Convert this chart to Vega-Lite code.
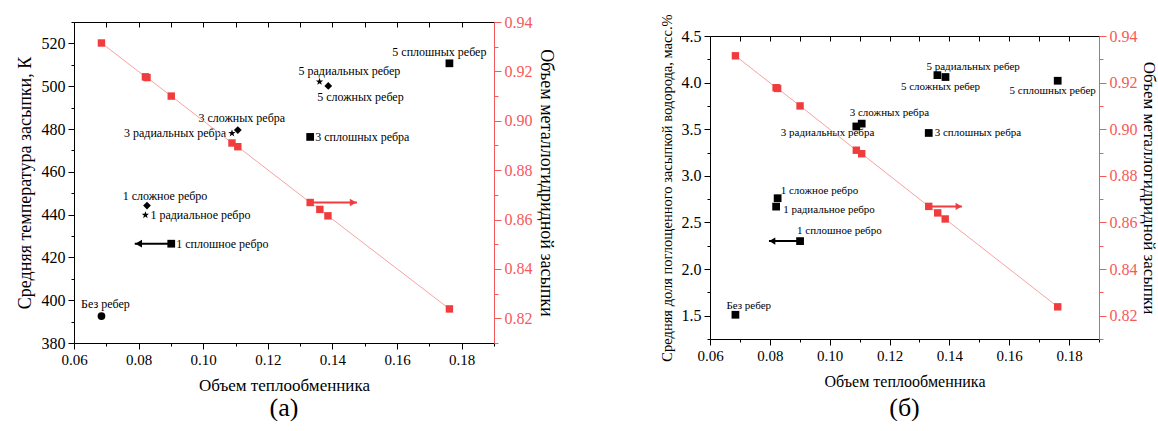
{
  "$schema": "https://vega.github.io/schema/vega-lite/v6.json",
  "padding": {"left": 16, "top": 13, "right": 0, "bottom": 0},
  "background": "white",
  "config": {"view": {"stroke": null}, "concat": {"spacing": 105}, "font": "Liberation Serif"},
  "datasets": {
    "ribs": [
      {"label": "Без ребер", "type": "нет", "vol": 0.0685, "temp": 392.6, "h2": 1.51},
      {"label": "1 сложное ребро", "type": "сложные", "vol": 0.0826, "temp": 444.2, "h2": 2.76},
      {"label": "1 радиальное ребро", "type": "радиальные", "vol": 0.0821, "temp": 439.8, "h2": 2.67},
      {"label": "1 сплошное ребро", "type": "сплошные", "vol": 0.0901, "temp": 426.4, "h2": 2.30},
      {"label": "3 радиальных ребра", "type": "радиальные", "vol": 0.1089, "temp": 478.0, "h2": 3.53},
      {"label": "3 сложных ребра", "type": "сложные", "vol": 0.1107, "temp": 479.5, "h2": 3.56},
      {"label": "3 сплошных ребра", "type": "сплошные", "vol": 0.1331, "temp": 476.3, "h2": 3.46},
      {"label": "5 радиальных ребер", "type": "радиальные", "vol": 0.1360, "temp": 502.1, "h2": 4.08},
      {"label": "5 сложных ребер", "type": "сложные", "vol": 0.1387, "temp": 500.1, "h2": 4.06},
      {"label": "5 сплошных ребер", "type": "сплошные", "vol": 0.1762, "temp": 510.7, "h2": 4.02}
    ],
    "metal": [
      {"vol": 0.0685, "metal": 0.9315},
      {"vol": 0.0821, "metal": 0.9178},
      {"vol": 0.0826, "metal": 0.9175},
      {"vol": 0.0901, "metal": 0.9100},
      {"vol": 0.1089, "metal": 0.8910},
      {"vol": 0.1107, "metal": 0.8895},
      {"vol": 0.1331, "metal": 0.8669},
      {"vol": 0.1361, "metal": 0.8641},
      {"vol": 0.1386, "metal": 0.8615},
      {"vol": 0.1762, "metal": 0.8238}
    ],
    "arrows": [
      {"panel": "а", "side": "left", "vol": 0.0901, "tip": 0.0788, "temp": 426.4},
      {"panel": "а", "side": "right", "vol": 0.1331, "tip": 0.1476, "metal": 0.8669},
      {"panel": "б", "side": "left", "vol": 0.0901, "tip": 0.0797, "h2": 2.30},
      {"panel": "б", "side": "right", "vol": 0.1331, "tip": 0.1442, "metal": 0.8669}
    ],
    "heads": [
      {"panel": "а", "side": "left", "vol": 0.0800, "temp": 426.4},
      {"panel": "а", "side": "right", "vol": 0.1464, "metal": 0.8669},
      {"panel": "б", "side": "left", "vol": 0.0808, "h2": 2.30},
      {"panel": "б", "side": "right", "vol": 0.1431, "metal": 0.8669}
    ]
  },
  "hconcat": [
    {
      "width": 420,
      "height": 321,
      "title": {"text": "(а)", "orient": "bottom", "font": "Liberation Serif", "fontSize": 26, "fontWeight": "normal", "color": "black", "offset": 2},
      "resolve": {"scale": {"y": "independent"}, "axis": {"x": "independent"}},
      "layer": [
        {
          "data": {"name": "ribs"},
          "encoding": {
            "x": {"field": "vol", "type": "quantitative", "scale": {"domain": [0.06, 0.19], "nice": false, "zero": false},
              "axis": {"orient": "bottom", "title": "Объем теплообменника", "values": [0.06,0.07,0.08,0.09,0.1,0.11,0.12,0.13,0.14,0.15,0.16,0.17,0.18,0.19],
                "labelExpr": "round(datum.value*100)%2==0 ? format(datum.value,'.2f') : ''",
                "tickSize": {"condition": {"test": "round(datum.value*100)%2==0", "value": 6}, "value": 3},
                "labelOverlap": false, "labelFlush": false, "grid": false, "domainColor": "black", "tickColor": "black",
                "labelColor": "black", "labelFont": "Liberation Serif", "labelFontSize": 15, "labelPadding": 3,
                "titleFont": "Liberation Serif", "titleFontSize": 17, "titleFontWeight": "normal", "titleColor": "black", "titlePadding": 10}},
            "y": {"field": "temp", "type": "quantitative", "scale": {"domain": [380, 530], "nice": false, "zero": false},
              "axis": {"orient": "left", "title": "Средняя температура засыпки, К", "values": [380,390,400,410,420,430,440,450,460,470,480,490,500,510,520,530],
                "labelExpr": "datum.value%20==0 ? datum.label : ''",
                "tickSize": {"condition": {"test": "datum.value%20==0", "value": 6}, "value": 3},
                "labelOverlap": false, "labelFlush": false, "grid": false, "domainColor": "black", "tickColor": "black",
                "labelColor": "black", "labelFont": "Liberation Serif", "labelFontSize": 16, "labelPadding": 3,
                "titleFont": "Liberation Serif", "titleFontSize": 18, "titleFontWeight": "normal", "titleColor": "black", "titlePadding": 7}}
          },
          "layer": [
            {"mark": {"type": "point", "filled": true, "color": "black", "opacity": 1, "size": 60},
              "encoding": {"shape": {"field": "type", "type": "nominal", "legend": null,
                "scale": {"domain": ["нет", "сложные", "радиальные", "сплошные"],
                  "range": ["circle", "diamond", "M0,-1L0.235,-0.324L0.951,-0.309L0.38,0.124L0.588,0.809L0,0.4L-0.588,0.809L-0.38,0.124L-0.951,-0.309L-0.235,-0.324Z", "square"]}}}},
            {"data": {"name": "arrows"}, "transform": [{"filter": "datum.panel=='а' && datum.side=='left'"}],
              "mark": {"type": "rule", "color": "black", "strokeWidth": 2}, "encoding": {"x2": {"field": "tip"}}},
            {"data": {"name": "heads"}, "transform": [{"filter": "datum.panel=='а' && datum.side=='left'"}],
              "mark": {"type": "point", "shape": "triangle-left", "filled": true, "color": "black", "opacity": 1, "size": 60}, "encoding": {}},
            {"transform": [{"filter": {"field": "label", "oneOf": ["1 радиальное ребро", "1 сплошное ребро", "3 сплошных ребра"]}}],
              "mark": {"type": "text", "align": "left", "baseline": "middle", "dx": 5, "dy": 0, "font": "Liberation Serif", "fontSize": 12, "color": "black"},
              "encoding": {"text": {"field": "label"}}},
            {"transform": [{"filter": {"field": "label", "oneOf": ["3 радиальных ребра"]}}],
              "mark": {"type": "text", "align": "right", "baseline": "middle", "dx": -6, "dy": 0, "font": "Liberation Serif", "fontSize": 12, "color": "black"},
              "encoding": {"text": {"field": "label"}}},
            {"transform": [{"filter": {"field": "label", "oneOf": ["Без ребер", "3 сложных ребра"]}}],
              "mark": {"type": "text", "align": "center", "baseline": "middle", "dx": 4, "dy": -12, "font": "Liberation Serif", "fontSize": 12, "color": "black"},
              "encoding": {"text": {"field": "label"}}},
            {"transform": [{"filter": {"field": "label", "oneOf": ["1 сложное ребро"]}}],
              "mark": {"type": "text", "align": "center", "baseline": "middle", "dx": 18, "dy": -10, "font": "Liberation Serif", "fontSize": 12, "color": "black"},
              "encoding": {"text": {"field": "label"}}},
            {"transform": [{"filter": {"field": "label", "oneOf": ["5 радиальных ребер"]}}],
              "mark": {"type": "text", "align": "left", "baseline": "middle", "dx": -21, "dy": -11, "font": "Liberation Serif", "fontSize": 12, "color": "black"},
              "encoding": {"text": {"field": "label"}}},
            {"transform": [{"filter": {"field": "label", "oneOf": ["5 сложных ребер"]}}],
              "mark": {"type": "text", "align": "left", "baseline": "middle", "dx": -11, "dy": 11, "font": "Liberation Serif", "fontSize": 12, "color": "black"},
              "encoding": {"text": {"field": "label"}}},
            {"transform": [{"filter": {"field": "label", "oneOf": ["5 сплошных ребер"]}}],
              "mark": {"type": "text", "align": "right", "baseline": "middle", "dx": 37, "dy": -11, "font": "Liberation Serif", "fontSize": 12, "color": "black"},
              "encoding": {"text": {"field": "label"}}}
          ]
        },
        {
          "data": {"name": "metal"},
          "encoding": {
            "x": {"field": "vol", "type": "quantitative", "scale": {"domain": [0.06, 0.19], "nice": false, "zero": false},
              "axis": {"orient": "top", "title": null, "labels": false, "values": [0.06,0.07,0.08,0.09,0.1,0.11,0.12,0.13,0.14,0.15,0.16,0.17,0.18,0.19],
                "tickSize": -5, "grid": false, "domainColor": "black", "tickColor": "black"}},
            "y": {"field": "metal", "type": "quantitative", "scale": {"domain": [0.81, 0.94], "nice": false, "zero": false},
              "axis": {"orient": "right", "title": "Объем металлогидридной засыпки", "values": [0.81,0.82,0.83,0.84,0.85,0.86,0.87,0.88,0.89,0.9,0.91,0.92,0.93,0.94],
                "labelExpr": "round(datum.value*100)%2==0 ? format(datum.value,'.2f') : ''",
                "tickSize": {"condition": {"test": "round(datum.value*100)%2==0", "value": 7}, "value": 4},
                "labelOverlap": false, "labelFlush": false, "grid": false, "domainColor": "#f55a5a", "tickColor": "#f55a5a",
                "labelColor": "#f55a5a", "labelFont": "Liberation Serif", "labelFontSize": 16, "labelPadding": 3,
                "titleFont": "Liberation Serif", "titleFontSize": 18, "titleFontWeight": "normal", "titleColor": "black", "titlePadding": 4}}
          },
          "layer": [
            {"mark": {"type": "line", "color": "#f5a3a3", "strokeWidth": 1}, "encoding": {}},
            {"mark": {"type": "square", "color": "#f03c3c", "opacity": 1, "size": 55}, "encoding": {}},
            {"data": {"name": "arrows"}, "transform": [{"filter": "datum.panel=='а' && datum.side=='right'"}],
              "mark": {"type": "rule", "color": "#f03c3c", "strokeWidth": 2}, "encoding": {"x2": {"field": "tip"}}},
            {"data": {"name": "heads"}, "transform": [{"filter": "datum.panel=='а' && datum.side=='right'"}],
              "mark": {"type": "point", "shape": "triangle-right", "filled": true, "color": "#f03c3c", "opacity": 1, "size": 60}, "encoding": {}}
          ]
        }
      ]
    },
    {
      "width": 389,
      "height": 317,
      "title": {"text": "(б)", "orient": "bottom", "font": "Liberation Serif", "fontSize": 26, "fontWeight": "normal", "color": "black", "offset": 6},
      "resolve": {"scale": {"y": "independent"}, "axis": {"x": "independent"}},
      "layer": [
        {
          "data": {"name": "ribs"},
          "encoding": {
            "x": {"field": "vol", "type": "quantitative", "scale": {"domain": [0.06, 0.19], "nice": false, "zero": false},
              "axis": {"orient": "bottom", "title": "Объем теплообменника", "values": [0.06,0.07,0.08,0.09,0.1,0.11,0.12,0.13,0.14,0.15,0.16,0.17,0.18,0.19],
                "labelExpr": "round(datum.value*100)%2==0 ? format(datum.value,'.2f') : ''",
                "tickSize": {"condition": {"test": "round(datum.value*100)%2==0", "value": 6}, "value": 3},
                "labelOverlap": false, "labelFlush": false, "grid": false, "domainColor": "black", "tickColor": "black",
                "labelColor": "black", "labelFont": "Liberation Serif", "labelFontSize": 15, "labelPadding": 3,
                "titleFont": "Liberation Serif", "titleFontSize": 16, "titleFontWeight": "normal", "titleColor": "black", "titlePadding": 10}},
            "y": {"field": "h2", "type": "quantitative", "scale": {"domain": [1.25, 4.5], "nice": false, "zero": false, "range": [317, 14]},
              "axis": {"orient": "left", "title": "Средняя доля поглощенного засыпкой водорода, масс.%", "values": [1.25,1.5,1.75,2,2.25,2.5,2.75,3,3.25,3.5,3.75,4,4.25,4.5],
                "labelExpr": "round(datum.value*4)%2==0 ? format(datum.value,'.1f') : ''",
                "tickSize": {"condition": {"test": "round(datum.value*4)%2==0", "value": 6}, "value": 3},
                "labelOverlap": false, "labelFlush": false, "grid": false, "domainColor": "black", "tickColor": "black",
                "labelColor": "black", "labelFont": "Liberation Serif", "labelFontSize": 16, "labelPadding": 3,
                "titleFont": "Liberation Serif", "titleFontSize": 14.5, "titleFontWeight": "normal", "titleColor": "black", "titlePadding": 7}}
          },
          "layer": [
            {"mark": {"type": "square", "color": "black", "opacity": 1, "size": 60}, "encoding": {}},
            {"data": {"name": "arrows"}, "transform": [{"filter": "datum.panel=='б' && datum.side=='left'"}],
              "mark": {"type": "rule", "color": "black", "strokeWidth": 2}, "encoding": {"x2": {"field": "tip"}}},
            {"data": {"name": "heads"}, "transform": [{"filter": "datum.panel=='б' && datum.side=='left'"}],
              "mark": {"type": "point", "shape": "triangle-left", "filled": true, "color": "black", "opacity": 1, "size": 50}, "encoding": {}},
            {"transform": [{"filter": {"field": "label", "oneOf": ["1 сложное ребро"]}}],
              "mark": {"type": "text", "align": "left", "baseline": "middle", "dx": 3, "dy": -7, "font": "Liberation Serif", "fontSize": 11, "color": "black"},
              "encoding": {"text": {"field": "label"}}},
            {"transform": [{"filter": {"field": "label", "oneOf": ["1 радиальное ребро"]}}],
              "mark": {"type": "text", "align": "left", "baseline": "middle", "dx": 7, "dy": 3, "font": "Liberation Serif", "fontSize": 11, "color": "black"},
              "encoding": {"text": {"field": "label"}}},
            {"transform": [{"filter": {"field": "label", "oneOf": ["1 сплошное ребро"]}}],
              "mark": {"type": "text", "align": "left", "baseline": "middle", "dx": -3, "dy": -10, "font": "Liberation Serif", "fontSize": 11, "color": "black"},
              "encoding": {"text": {"field": "label"}}},
            {"transform": [{"filter": {"field": "label", "oneOf": ["Без ребер"]}}],
              "mark": {"type": "text", "align": "left", "baseline": "middle", "dx": -9, "dy": -9, "font": "Liberation Serif", "fontSize": 11, "color": "black"},
              "encoding": {"text": {"field": "label"}}},
            {"transform": [{"filter": {"field": "label", "oneOf": ["3 радиальных ребра"]}}],
              "mark": {"type": "text", "align": "right", "baseline": "middle", "dx": 18, "dy": 7, "font": "Liberation Serif", "fontSize": 11, "color": "black"},
              "encoding": {"text": {"field": "label"}}},
            {"transform": [{"filter": {"field": "label", "oneOf": ["3 сложных ребра"]}}],
              "mark": {"type": "text", "align": "left", "baseline": "middle", "dx": -12, "dy": -11, "font": "Liberation Serif", "fontSize": 11, "color": "black"},
              "encoding": {"text": {"field": "label"}}},
            {"transform": [{"filter": {"field": "label", "oneOf": ["3 сплошных ребра"]}}],
              "mark": {"type": "text", "align": "left", "baseline": "middle", "dx": 6, "dy": 0, "font": "Liberation Serif", "fontSize": 11, "color": "black"},
              "encoding": {"text": {"field": "label"}}},
            {"transform": [{"filter": {"field": "label", "oneOf": ["5 радиальных ребер"]}}],
              "mark": {"type": "text", "align": "left", "baseline": "middle", "dx": -11, "dy": -8, "font": "Liberation Serif", "fontSize": 11, "color": "black"},
              "encoding": {"text": {"field": "label"}}},
            {"transform": [{"filter": {"field": "label", "oneOf": ["5 сложных ребер", "5 сплошных ребер"]}}],
              "mark": {"type": "text", "align": "center", "baseline": "middle", "dx": -5, "dy": 10, "font": "Liberation Serif", "fontSize": 11, "color": "black"},
              "encoding": {"text": {"field": "label"}}}
          ]
        },
        {
          "data": {"name": "metal"},
          "encoding": {
            "x": {"field": "vol", "type": "quantitative", "scale": {"domain": [0.06, 0.19], "nice": false, "zero": false},
              "axis": {"orient": "top", "title": null, "labels": false, "offset": -14, "values": [0.06,0.07,0.08,0.09,0.1,0.11,0.12,0.13,0.14,0.15,0.16,0.17,0.18,0.19],
                "tickSize": -5, "grid": false, "domainColor": "black", "tickColor": "black"}},
            "y": {"field": "metal", "type": "quantitative", "scale": {"domain": [0.81, 0.94], "nice": false, "zero": false, "range": [317, 14]},
              "axis": {"orient": "right", "title": "Объем металлогидридной засыпки", "values": [0.81,0.82,0.83,0.84,0.85,0.86,0.87,0.88,0.89,0.9,0.91,0.92,0.93,0.94],
                "labelExpr": "round(datum.value*100)%2==0 ? format(datum.value,'.2f') : ''",
                "tickSize": {"condition": {"test": "round(datum.value*100)%2==0", "value": 7}, "value": 4},
                "labelOverlap": false, "labelFlush": false, "grid": false, "domainColor": "#f55a5a", "tickColor": "#f55a5a",
                "labelColor": "#f55a5a", "labelFont": "Liberation Serif", "labelFontSize": 16, "labelPadding": 3,
                "titleFont": "Liberation Serif", "titleFontSize": 17, "titleFontWeight": "normal", "titleColor": "black", "titlePadding": 2}}
          },
          "layer": [
            {"mark": {"type": "line", "color": "#f5a3a3", "strokeWidth": 1}, "encoding": {}},
            {"mark": {"type": "square", "color": "#f03c3c", "opacity": 1, "size": 55}, "encoding": {}},
            {"data": {"name": "arrows"}, "transform": [{"filter": "datum.panel=='б' && datum.side=='right'"}],
              "mark": {"type": "rule", "color": "#f03c3c", "strokeWidth": 2}, "encoding": {"x2": {"field": "tip"}}},
            {"data": {"name": "heads"}, "transform": [{"filter": "datum.panel=='б' && datum.side=='right'"}],
              "mark": {"type": "point", "shape": "triangle-right", "filled": true, "color": "#f03c3c", "opacity": 1, "size": 50}, "encoding": {}}
          ]
        }
      ]
    }
  ]
}
